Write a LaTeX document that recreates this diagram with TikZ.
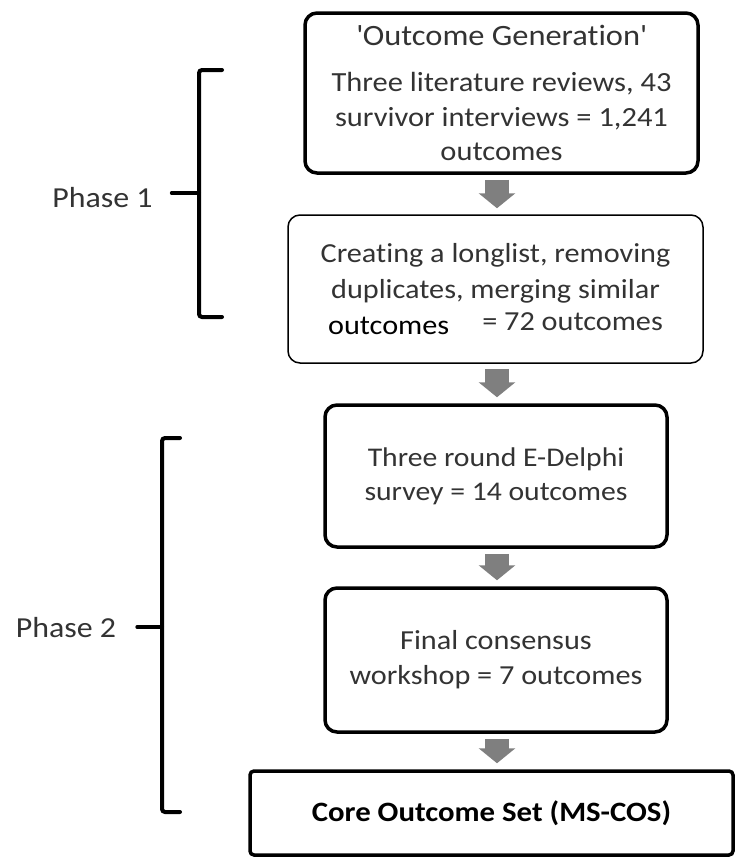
\documentclass[tikz,border=0pt]{standalone}
\usepackage{fontspec}
\setmainfont{Carlito}[FakeStretch=1.1, Ligatures=NoCommon]
\usetikzlibrary{arrows.meta}
\definecolor{txt}{HTML}{333333}
\definecolor{arr}{HTML}{7F7F7F}
\begin{document}
\begin{tikzpicture}[x=1pt,y=-1pt,
  box/.style={draw=black, rounded corners=12pt, align=center, text=txt, font=\fontsize{27.5}{35}\selectfont, inner sep=0pt},
  thickbox/.style={box, line width=3.5pt},
  thinbox/.style={box, line width=1.5pt},
  blockarrow/.style={draw=arr, line width=24pt, -{Triangle[length=15pt,width=36pt]}, shorten <=5pt, shorten >=6pt},
  bracket/.style={line width=4pt, rounded corners=3pt, line cap=round},
  phase/.style={text=txt, font=\fontsize{29}{35}\selectfont, inner sep=0pt}]
\useasboundingbox (0,0) rectangle (735,860);
\coordinate (ax) at (497,0);

\node[thickbox, minimum width=393pt, minimum height=160pt, font=\fontsize{27.7}{34.5}\selectfont] (b1) at (501.5,93)
  {{\fontsize{29.5}{34.5}\selectfont\textquotesingle Outcome Generation\textquotesingle}\\[12pt] Three literature reviews, 43\\ survivor interviews = 1,241\\ outcomes};
\node[thinbox, minimum width=415pt, minimum height=148pt, font=\fontsize{27.5}{36}\selectfont] (b2) at (495.5,289)
  {Creating a longlist, removing\\ duplicates, merging similar\\ {\color{black}outcomes}\hspace{33pt}\raisebox{4pt}{= 72 outcomes}};
\node[thickbox, minimum width=342pt, minimum height=142pt, font=\fontsize{27}{34}\selectfont] (b3) at (496,476)
  {Three round E-Delphi\\ survey = 14 outcomes};
\node[thickbox, minimum width=342pt, minimum height=144pt] (b4) at (496,660)
  {Final consensus\\ workshop = 7 outcomes};
\node[thickbox, rounded corners=4pt, minimum width=483pt, minimum height=84pt, text=black, font=\fontsize{28}{34}\selectfont\bfseries] (b5) at (491.5,813)
  {Core Outcome Set (MS-COS)};

\draw[blockarrow] (b1.south -| ax) -- (b2.north -| ax);
\draw[blockarrow] (b2.south -| ax) -- (b3.north -| ax);
\draw[blockarrow] (b3.south -| ax) -- (b4.north -| ax);
\draw[blockarrow] (b4.south -| ax) -- (b5.north -| ax);

\node[phase] (p1) at (102.5,198) {Phase 1};
\node[phase] (p2) at (66,628) {Phase 2};
\coordinate (br1) at (199,193);
\coordinate (br2) at (162,627);
\draw[bracket] (222,70) -- (199,70) -- (199,317) -- (222,317);
\draw[bracket] ([xshift=19pt]p1.east |- br1) -- (br1);
\draw[bracket] (180,438) -- (162,438) -- (162,812) -- (180,812);
\draw[bracket] ([xshift=21pt]p2.east |- br2) -- (br2);
\end{tikzpicture}
\end{document}
